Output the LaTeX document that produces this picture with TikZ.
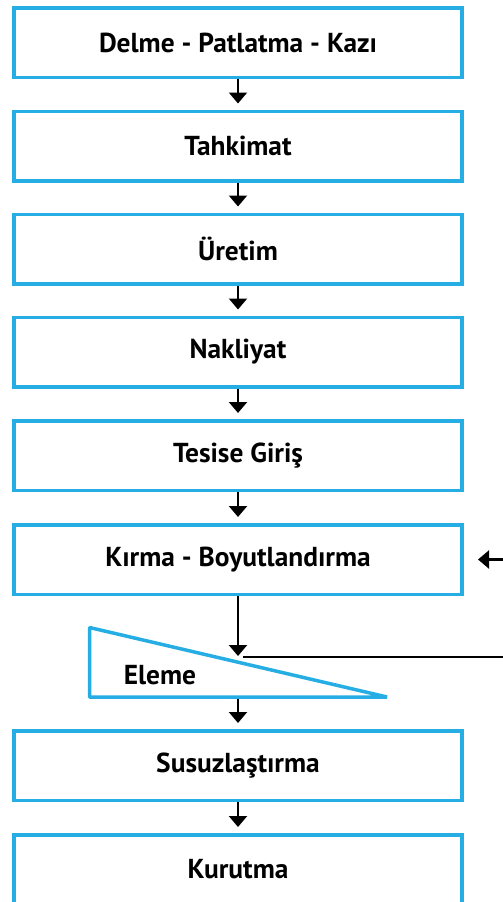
\documentclass[tikz,border=0pt]{standalone}
\usepackage{fontspec}
\setmainfont{PT Sans}
\usetikzlibrary{arrows.meta, positioning}
\definecolor{boxblue}{RGB}{38,174,228}

\begin{document}
\begin{tikzpicture}[x=1pt, y=-1pt,
        box/.style={draw=boxblue, line width=3.5pt, fill=white, minimum width=448pt, minimum height=69.5pt, inner sep=0pt, font=\fontsize{27.4}{31}\selectfont\bfseries},
        flow/.style={-{Triangle[width=18pt, length=11pt]}, line width=2.2pt, shorten >=6pt}]
        \useasboundingbox (0,0) rectangle (503,902);

        \node[box] (b1) at (238, 42.5) {Delme - Patlatma - Kazı};
        \node[box] (b2) at (238, 146) {Tahkimat};
        \node[box] (b3) at (238, 249) {Üretim};
        \node[box] (b4) at (238, 352) {Nakliyat};
        \node[box] (b5) at (238, 455.5) {Tesise Giriş};
        \node[box] (b6) at (238, 559.5) {Kırma - Boyutlandırma};
        \node[box] (b7) at (238, 765.5) {Susuzlaştırma};
        \node[box] (b8) at (238, 869.5) {Kurutma};

        % screen
        \coordinate (s1) at (89.5, 627.5);
        \coordinate (s2) at (89.5, 697);
        \coordinate (s3) at (387, 697);
        \draw[boxblue, line width=3.5pt, line join=bevel, fill=white] (s1) -- (s2) -- (s3) -- cycle;
        \node[font=\fontsize{27.4}{31}\selectfont\bfseries] (eleme) at (160, 675) {Eleme};
        \coordinate (drop) at (238, 656);
        \coordinate (sout) at (238, 698.5);

        % return line
        \coordinate (retA) at (243, 657);
        \coordinate (retB) at (503, 657);
        \coordinate (inR) at (503, 559.5);
        \coordinate (inL) at (478, 559.5);

        \draw[flow] (b1) to (b2);
        \draw[flow] (b2) to (b3);
        \draw[flow] (b3) to (b4);
        \draw[flow] (b4) to (b5);
        \draw[flow] (b5) to (b6);
        \draw[flow, shorten >=0pt] (b6) to (drop);
        \draw[flow] (sout) to (b7);
        \draw[flow] (b7) to (b8);

        \draw[line width=2.2pt] (retA) -- (retB);
        \draw[flow, shorten >=0pt] (inR) to (inL);
\end{tikzpicture}
\end{document}
